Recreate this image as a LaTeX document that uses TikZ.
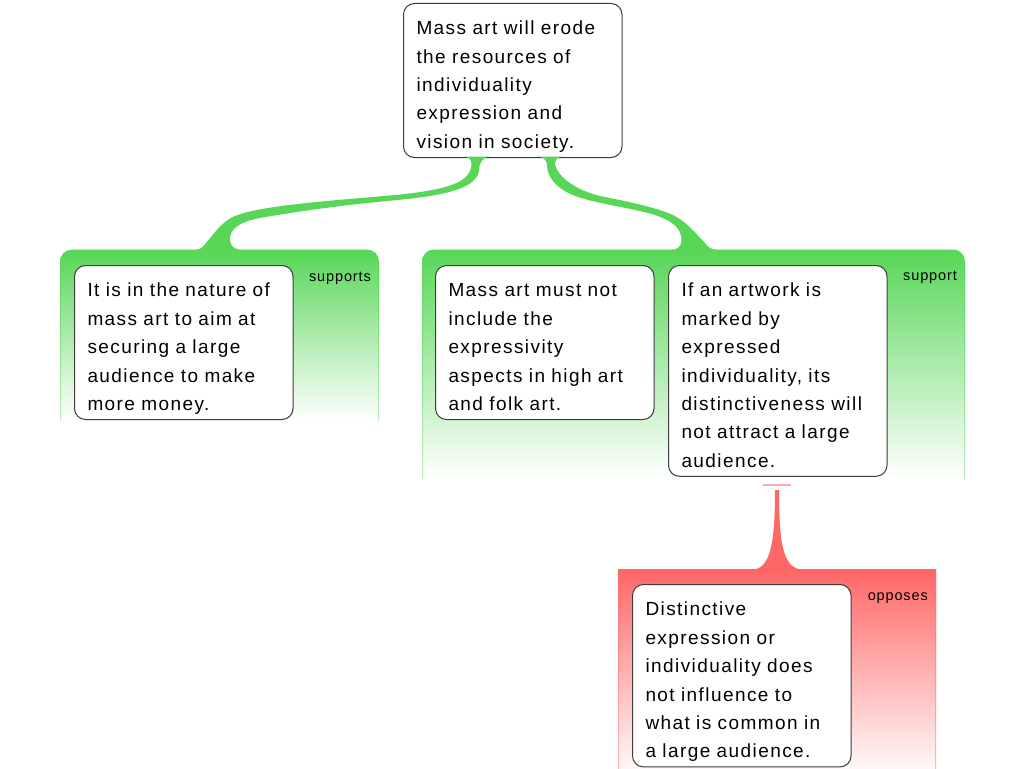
\documentclass[tikz,border=0pt]{standalone}
\usepackage{fontspec}
\setmainfont{Liberation Sans}
\newfontfamily\boxfont[LetterSpace=7.5]{Liberation Sans}
\newfontfamily\relfont[LetterSpace=6]{Liberation Sans}
\definecolor{grn}{RGB}{87,214,87}
\definecolor{rd}{RGB}{255,102,102}
\definecolor{pinkbar}{RGB}{255,170,170}
\definecolor{bordr}{RGB}{60,60,60}
\newcommand\firstst{\rule{0pt}{31.3pt}}
\newcommand\lastst{\rule[-9.1pt]{0pt}{0pt}}
\tikzset{
  claim/.style={draw=bordr, line width=1pt, fill=white, rounded corners=11pt,
    anchor=north west, inner xsep=13pt, inner ysep=0pt, text width=192.5pt,
    align=left, font=\boxfont\fontsize{19}{28.4}\selectfont},
  rel/.style={font=\relfont\fontsize{14.5}{17}\selectfont, anchor=base east, inner sep=0pt},
  grpshade/.style={top color=grn, middle color=grn!55!white, bottom color=white},
  redshade/.style={top color=rd, middle color=rd!45!white, bottom color=rd!3!white},
}
\begin{document}
\begin{tikzpicture}[x=1pt,y=-1pt]
\useasboundingbox (0,0) rectangle (1024,768);
\clip (0,0) rectangle (1024,768);
\fill[white] (0,0) rectangle (1024,768);

% groups
\shade[grpshade] (60,420) [rounded corners=12pt] -- (60,249.5) -- (379,249.5) [sharp corners] -- (379,420) -- cycle;
\shade[top color=grn, bottom color=grn!40!white] (60,262) rectangle (61,420);
\shade[top color=grn, bottom color=grn!40!white] (378,262) rectangle (379,420);

\shade[grpshade] (422,478) [rounded corners=12pt] -- (422,249.5) -- (965,249.5) [sharp corners] -- (965,478) -- cycle;
\shade[top color=grn, bottom color=grn!40!white] (422,262) rectangle (423,478);
\shade[top color=grn, bottom color=grn!40!white] (964,262) rectangle (965,478);

\shade[redshade] (618,569) rectangle (936,772);
\shade[top color=rd, bottom color=rd!45!white] (618,569) rectangle (619,768);
\shade[top color=rd, bottom color=rd!45!white] (935,569) rectangle (936,768);

% claims
\node[claim] (top) at (403,3) {\firstst Mass art will erode\\the resources of\\individuality\\expression and\\vision in society.\lastst};
\node[claim] (c1) at (74,265) {\firstst It is in the nature of\\mass art to aim at\\securing a large\\audience to make\\more money.\lastst};
\node[claim] (c2) at (435,265) {\firstst Mass art must not\\include the\\expressivity\\aspects in high art\\and folk art.\lastst};
\node[claim] (c3) at (668,265) {\firstst If an artwork is\\marked by\\expressed\\individuality, its\\distinctiveness will\\not attract a large\\audience.\lastst};
\node[claim] (c4) at (632,584) {\firstst Distinctive\\expression or\\individuality does\\not influence to\\what is common in\\a large audience.\lastst};

% connectors
\fill[grn] (462,156.5) .. controls (469,156.5) and (472,160) .. (471.5,165)
 .. controls (470,182) and (450,190) .. (390,195.5)
 .. controls (320,201.5) and (260,206) .. (235,216)
 .. controls (222,221) and (213,235) .. (206,243)
 .. controls (203,247) and (200,250) .. (195,250)
 -- (195,251) -- (242,251) -- (242,250)
 .. controls (236,250) and (231,247) .. (230,241)
 .. controls (229,230) and (238,222) .. (260,218)
 .. controls (300,211) and (340,205.5) .. (390,200.7)
 .. controls (445,196) and (478,188) .. (479,170)
 .. controls (479.5,162) and (483,156.5) .. (491,156.5)
 -- cycle;

\fill[grn] (564,156.5) .. controls (557,156.5) and (555,160) .. (555,164)
 .. controls (557,176) and (575,190) .. (600,196)
 .. controls (625,201) and (650,206) .. (668,213)
 .. controls (685,219) and (697,235) .. (705,243)
 .. controls (708,247) and (711,250) .. (718,250)
 -- (718,251) -- (670,251) -- (670,250)
 .. controls (677,250) and (681,247) .. (681.5,241)
 .. controls (682,228) and (672,220) .. (650,213.5)
 .. controls (620,206) and (595,203) .. (575,196)
 .. controls (555,188) and (547,176) .. (547,165)
 .. controls (547,160) and (543,156.5) .. (536,156.5)
 -- cycle;

\fill[pinkbar] (763,483.5) rectangle (791,485.5);
\fill[rd] (775,490) -- (779,490) .. controls (779,540) and (782,567) .. (801,569.5)
 -- (801,571) -- (754,571) -- (754,569.5) .. controls (771,567) and (775,540) .. (775,490) -- cycle;

% relation labels
\node[rel] (l1) at (371,281) {supports};
\node[rel] (l2) at (957,280) {support};
\node[rel] (l3) at (928,600) {opposes};
\end{tikzpicture}
\end{document}
